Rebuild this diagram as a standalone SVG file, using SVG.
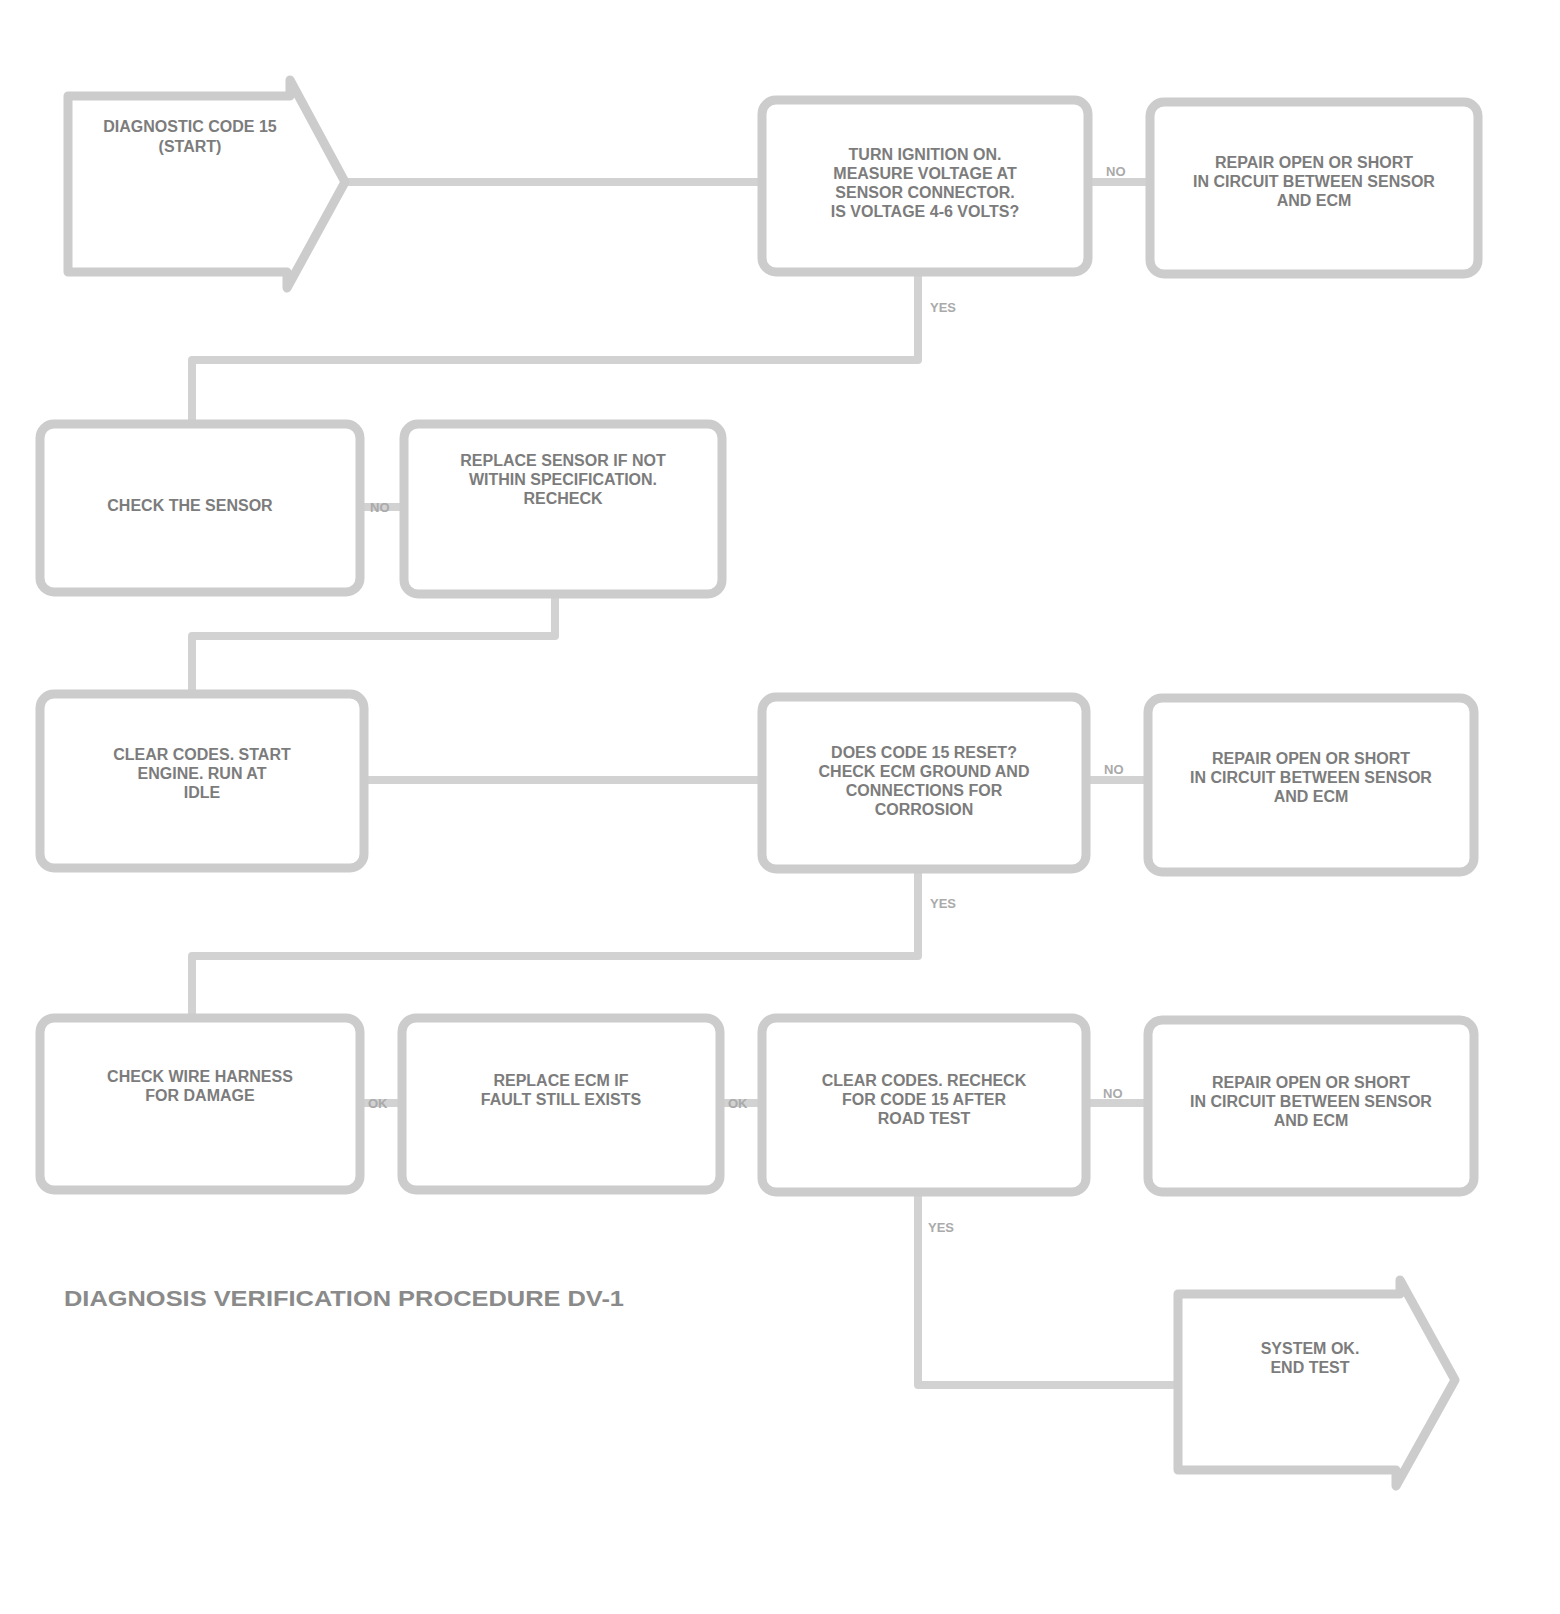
<svg xmlns="http://www.w3.org/2000/svg" width="1560" height="1614" viewBox="0 0 1560 1614">
<style>
.box{fill:#fff;stroke:#cccccc;stroke-width:9;stroke-linejoin:round}
.ln{fill:none;stroke:#d2d2d2;stroke-width:8;stroke-linejoin:round}
.t{font-family:"Liberation Sans",Arial,sans-serif;font-size:16px;font-weight:bold;fill:#7c7c7c;text-anchor:middle}
.s{font-family:"Liberation Sans",Arial,sans-serif;font-size:13px;font-weight:bold;fill:#aaaaaa}
.f{font-family:"Liberation Sans",Arial,sans-serif;font-size:22px;font-weight:bold;fill:#8a8a8a}
</style>
<rect width="1560" height="1614" fill="#fff"/>
<g id="connectors">
<path class="ln" d="M345,182 H758"/>
<path class="ln" d="M1090,182 H1148"/>
<path class="ln" d="M918,272 V360 H192 V422"/>
<path class="ln" d="M360,507 H402"/>
<path class="ln" d="M555,595 V636 H192 V692"/>
<path class="ln" d="M365,780 H760"/>
<path class="ln" d="M1087,780 H1146"/>
<path class="ln" d="M918,872 V956 H192 V1016"/>
<path class="ln" d="M362,1103 H400"/>
<path class="ln" d="M722,1103 H760"/>
<path class="ln" d="M1087,1103 H1146"/>
<path class="ln" d="M918,1195 V1385 H1176"/>
<text class="s" x="1106" y="176">NO</text>
<text class="s" x="930" y="312">YES</text>
<text class="s" x="370" y="512">NO</text>
<text class="s" x="1104" y="774">NO</text>
<text class="s" x="930" y="908">YES</text>
<text class="s" x="368" y="1108">OK</text>
<text class="s" x="728" y="1108">OK</text>
<text class="s" x="1103" y="1098">NO</text>
<text class="s" x="928" y="1232">YES</text>
</g>
<g id="start">
<path class="box" d="M68,96 H290 V80 L345,182 L287,288 V272 H68 Z"/>
<text class="t" x="190" y="132">DIAGNOSTIC CODE 15</text>
<text class="t" x="190" y="152">(START)</text>
</g>
<g id="boxA">
<rect class="box" x="762" y="100" width="326" height="172" rx="14"/>
<text class="t" x="925" y="160">TURN IGNITION ON.</text>
<text class="t" x="925" y="179">MEASURE VOLTAGE AT</text>
<text class="t" x="925" y="198">SENSOR CONNECTOR.</text>
<text class="t" x="925" y="217">IS VOLTAGE 4-6 VOLTS?</text>
</g>
<g id="boxB">
<rect class="box" x="1150" y="102" width="328" height="172" rx="14"/>
<text class="t" x="1314" y="168">REPAIR OPEN OR SHORT</text>
<text class="t" x="1314" y="187">IN CIRCUIT BETWEEN SENSOR</text>
<text class="t" x="1314" y="206">AND ECM</text>
</g>
<g id="boxC">
<rect class="box" x="40" y="424" width="320" height="168" rx="14"/>
<text class="t" x="190" y="511">CHECK THE SENSOR</text>
</g>
<g id="boxD">
<rect class="box" x="404" y="424" width="318" height="170" rx="14"/>
<text class="t" x="563" y="466">REPLACE SENSOR IF NOT</text>
<text class="t" x="563" y="485">WITHIN SPECIFICATION.</text>
<text class="t" x="563" y="504">RECHECK</text>
</g>
<g id="boxE">
<rect class="box" x="40" y="694" width="324" height="174" rx="14"/>
<text class="t" x="202" y="760">CLEAR CODES. START</text>
<text class="t" x="202" y="779">ENGINE. RUN AT</text>
<text class="t" x="202" y="798">IDLE</text>
</g>
<g id="boxF">
<rect class="box" x="762" y="697" width="324" height="172" rx="14"/>
<text class="t" x="924" y="758">DOES CODE 15 RESET?</text>
<text class="t" x="924" y="777">CHECK ECM GROUND AND</text>
<text class="t" x="924" y="796">CONNECTIONS FOR</text>
<text class="t" x="924" y="815">CORROSION</text>
</g>
<g id="boxG">
<rect class="box" x="1148" y="698" width="326" height="174" rx="14"/>
<text class="t" x="1311" y="764">REPAIR OPEN OR SHORT</text>
<text class="t" x="1311" y="783">IN CIRCUIT BETWEEN SENSOR</text>
<text class="t" x="1311" y="802">AND ECM</text>
</g>
<g id="boxH">
<rect class="box" x="40" y="1018" width="320" height="172" rx="14"/>
<text class="t" x="200" y="1082">CHECK WIRE HARNESS</text>
<text class="t" x="200" y="1101">FOR DAMAGE</text>
</g>
<g id="boxI">
<rect class="box" x="402" y="1018" width="318" height="172" rx="14"/>
<text class="t" x="561" y="1086">REPLACE ECM IF</text>
<text class="t" x="561" y="1105">FAULT STILL EXISTS</text>
</g>
<g id="boxJ">
<rect class="box" x="762" y="1018" width="324" height="174" rx="14"/>
<text class="t" x="924" y="1086">CLEAR CODES. RECHECK</text>
<text class="t" x="924" y="1105">FOR CODE 15 AFTER</text>
<text class="t" x="924" y="1124">ROAD TEST</text>
</g>
<g id="boxK">
<rect class="box" x="1148" y="1020" width="326" height="172" rx="14"/>
<text class="t" x="1311" y="1088">REPAIR OPEN OR SHORT</text>
<text class="t" x="1311" y="1107">IN CIRCUIT BETWEEN SENSOR</text>
<text class="t" x="1311" y="1126">AND ECM</text>
</g>
<g id="end">
<path class="box" d="M1178,1294 H1400 V1280 L1455,1380 L1396,1486 V1470 H1178 Z"/>
<text class="t" x="1310" y="1354">SYSTEM OK.</text>
<text class="t" x="1310" y="1373">END TEST</text>
</g>
<g id="footer">
<text class="f" x="64" y="1306" textLength="560" lengthAdjust="spacingAndGlyphs">DIAGNOSIS VERIFICATION PROCEDURE DV-1</text>
</g>
</svg>
